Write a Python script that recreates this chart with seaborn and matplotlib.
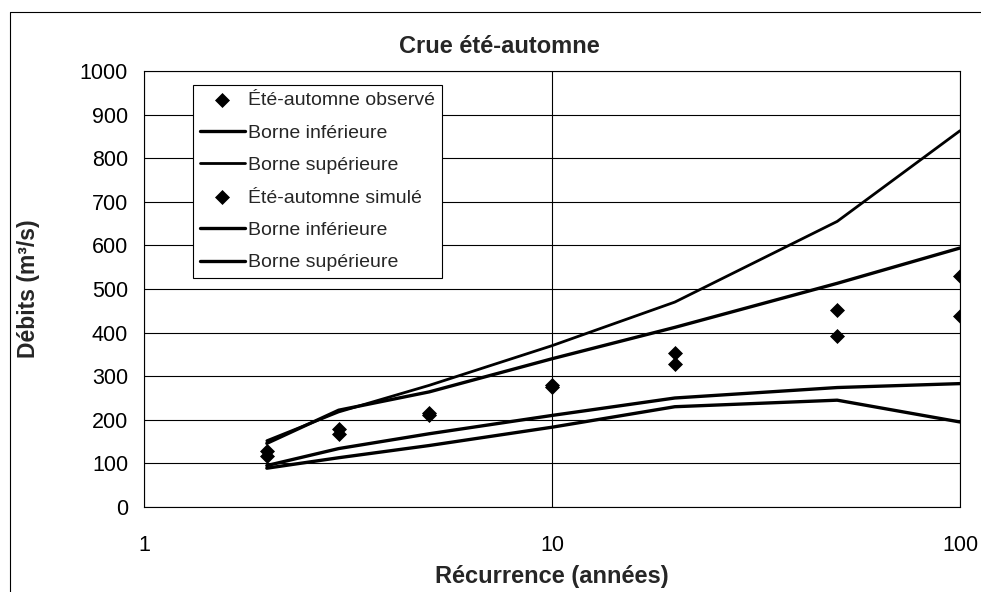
import numpy as np
import seaborn as sns
from matplotlib import pyplot as plt
from matplotlib.lines import Line2D

# data
recurrence = [2, 3, 5, 10, 20, 50, 100]

obs_points = [128, 180, 215, 280, 353, 452, 529]
obs_lower = [89, 113, 141, 183, 230, 245, 195]
obs_upper = [152, 218, 279, 370, 470, 655, 863]

sim_points = [118, 168, 210, 276, 329, 393, 439]
sim_lower = [95, 134, 168, 210, 250, 274, 283]
sim_upper = [146, 222, 264, 340, 412, 513, 594]

labels = ["Été-automne observé", "Borne inférieure", "Borne supérieure",
          "Été-automne simulé", "Borne inférieure", "Borne supérieure"]

sns.set_style("white")
plt.rcParams['font.family'] = ['Liberation Sans', 'DejaVu Sans']

fig = plt.figure(figsize=(9.81, 5.92), dpi=100)
ax = fig.add_axes([144 / 981, 1 - 507 / 592, 816 / 981, 436 / 592])

sns.scatterplot(x=recurrence, y=obs_points, ax=ax, marker="D", s=50,
                color="black", edgecolor="black", label=labels[0], zorder=4)
sns.lineplot(x=recurrence, y=obs_lower, ax=ax, color="black", lw=2.4,
             label=labels[1], zorder=3)
sns.lineplot(x=recurrence, y=obs_upper, ax=ax, color="black", lw=2.0,
             label=labels[2], zorder=3)
sns.scatterplot(x=recurrence, y=sim_points, ax=ax, marker="D", s=50,
                color="black", edgecolor="black", label=labels[3], zorder=4)
sns.lineplot(x=recurrence, y=sim_lower, ax=ax, color="black", lw=2.4,
             label=labels[4], zorder=3)
sns.lineplot(x=recurrence, y=sim_upper, ax=ax, color="black", lw=2.4,
             label=labels[5], zorder=3)

ax.set_xscale("log")
ax.set_xlim(1, 100)
ax.set_ylim(0, 1000)
ax.set_xticks([1, 10, 100])
ax.set_xticklabels(["1", "10", "100"])
ax.xaxis.set_minor_locator(plt.NullLocator())
ax.set_yticks(np.arange(0, 1001, 100))

ax.grid(True, which="major", color="black", lw=0.8)
ax.set_axisbelow(True)
for sp in ax.spines.values():
    sp.set_visible(True)
    sp.set_color("black")
    sp.set_linewidth(0.8)

ax.tick_params(axis="both", which="major", direction="out", length=5.5,
               width=0.8, color="black", labelsize=15.5, labelcolor="black")
ax.tick_params(axis="y", pad=6)
ax.tick_params(axis="x", pad=15)

ax.set_xlabel("Récurrence (années)", fontsize=17, fontweight="bold")
ax.set_ylabel("Débits (m³/s)", fontsize=16.5, fontweight="bold")
ax.xaxis.set_label_coords(0.5, -0.133)
ax.xaxis.label.set_va("top")
ax.yaxis.set_label_coords(-0.127, 0.5)

fig.text(499 / 981, 1 - 53 / 592, "Crue été-automne", fontsize=17,
         fontweight="bold", ha="center", va="baseline")

handles, labs = ax.get_legend_handles_labels()
leg = ax.legend(handles, labs, loc="upper left",
                bbox_to_anchor=((193 - 144) / 816, (507 - 85) / 436),
                borderaxespad=0, fontsize=14, frameon=True, fancybox=False,
                edgecolor="black", framealpha=1, scatterpoints=1,
                handlelength=2.3, handletextpad=0.2, labelspacing=0.76,
                borderpad=0.35)
leg.get_frame().set_linewidth(0.8)

# outer chart frame (top and left edges visible in the scan)
fx = 10 / 981
fy = 1 - 12 / 592
fig.add_artist(Line2D([fx, fx, 1], [0, fy, fy], transform=fig.transFigure,
                      color="black", lw=0.8))

fig.savefig("out.png", dpi=100)
